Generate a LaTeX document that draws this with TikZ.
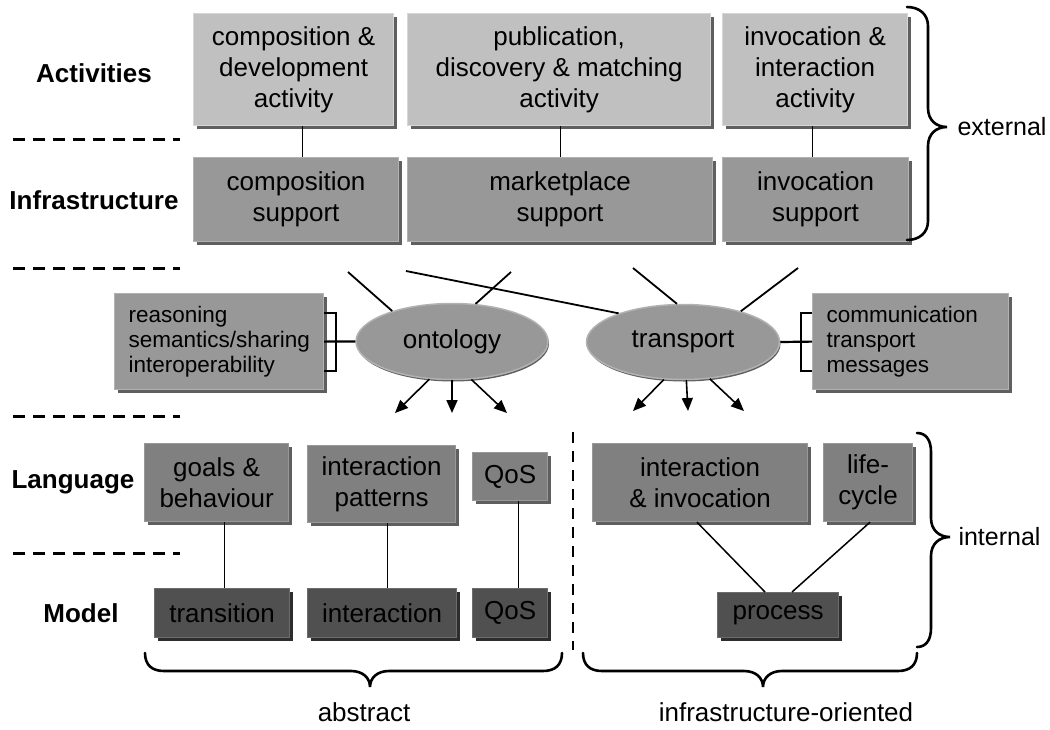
\documentclass[tikz,border=0pt]{standalone}
\usepackage{fontspec}
\setmainfont{Liberation Sans}
\usetikzlibrary{shapes.geometric,shadows,arrows.meta,calc}
\definecolor{actc}{RGB}{192,192,192}
\definecolor{actedge}{RGB}{214,214,214}
\definecolor{infc}{RGB}{152,152,152}
\definecolor{infedge}{RGB}{178,178,178}
\definecolor{langc}{RGB}{128,128,128}
\definecolor{langedge}{RGB}{152,152,152}
\definecolor{modc}{RGB}{80,80,80}
\definecolor{modedge}{RGB}{108,108,108}
\definecolor{shadc}{RGB}{95,95,95}
\definecolor{shadd}{RGB}{45,45,45}
\begin{document}
\begin{tikzpicture}[x=1pt,y=-1pt,
  box/.style={rectangle, inner sep=0pt, align=center, anchor=north west,
    font=\fontsize{26}{31}\selectfont, line width=1.2pt,
    drop shadow={shadow xshift=3pt, shadow yshift=-3pt, fill=shadc, opacity=1}},
  actbox/.style={box, fill=actc, draw=actedge},
  infbox/.style={box, fill=infc, draw=infedge},
  sidebox/.style={infbox, align=left, inner xsep=14pt, font=\fontsize{22.5}{25}\selectfont},
  langbox/.style={box, fill=langc, draw=langedge},
  modbox/.style={box, fill=modc, draw=modedge,
    drop shadow={shadow xshift=3pt, shadow yshift=-3pt, fill=shadd, opacity=1}},
  oval/.style={ellipse, inner sep=0pt, fill=infc, draw=infedge, line width=1.5pt,
    font=\fontsize{26}{31}\selectfont,
    drop shadow={shadow xshift=1pt, shadow yshift=-2pt, fill=shadc, opacity=1}},
  rowlbl/.style={font=\bfseries\fontsize{26}{31}\selectfont},
  sidelbl/.style={font=\fontsize{25}{31}\selectfont},
  botlbl/.style={font=\fontsize{26}{31}\selectfont},
  sep/.style={line width=3pt, dash pattern=on 12pt off 8pt},
  conn/.style={line width=1.5pt},
  arr/.style={line width=1.6pt, -{Triangle[length=13pt,width=11pt]}},
  brc/.style={line width=2.6pt, line cap=round},
]
\useasboundingbox (0,0) rectangle (1050,729);

% row labels
\node[rowlbl] (lact) at (94,73) {Activities};
\node[rowlbl] (linf) at (94,200) {Infrastructure};
\node[rowlbl] (llang) at (73,482) {Language};
\node[rowlbl] (lmod) at (81,613) {Model};

% dashed separators
\coordinate (s1a) at (13,139); \coordinate (s1b) at (180,139);
\coordinate (s2a) at (13,268); \coordinate (s2b) at (180,268);
\coordinate (s3a) at (13,416); \coordinate (s3b) at (180,416);
\coordinate (s4a) at (13,553); \coordinate (s4b) at (180,553);
\draw[sep] (s1a) -- (s1b);
\draw[sep] (s2a) -- (s2b);
\draw[sep] (s3a) -- (s3b);
\draw[sep] (s4a) -- (s4b);

% activities
\node[actbox, minimum width=200pt, minimum height=112pt] (a1) at (193,13) {composition \&\\development\\activity};
\node[actbox, minimum width=303pt, minimum height=112pt] (a2) at (407,13) {publication,\\discovery \& matching\\activity};
\node[actbox, minimum width=185pt, minimum height=112pt] (a3) at (722,13) {invocation \&\\interaction\\activity};

% infrastructure
\node[infbox, minimum width=205pt, minimum height=84pt] (i1) at (193,157) {composition\\support};
\node[infbox, minimum width=305pt, minimum height=84pt] (i2) at (407,157) {marketplace\\support};
\node[infbox, minimum width=186pt, minimum height=84pt] (i3) at (722,157) {invocation\\support};

\draw[conn] ([xshift=9pt]a1.south) -- ([xshift=9pt]a1.south |- i1.north);
\draw[conn] ([xshift=1.5pt]a2.south) -- ([xshift=1.5pt]a2.south |- i2.north);
\draw[conn] ([xshift=-2.5pt]a3.south) -- ([xshift=-2.5pt]a3.south |- i3.north);

% middle
\node[sidebox, text width=181pt, minimum height=96pt] (lbox) at (114,293) {reasoning\\semantics/sharing\\interoperability};
\node[sidebox, text width=168pt, minimum height=96pt] (rbox) at (812,293) {communication\\transport\\messages};
\node[oval, minimum width=192pt, minimum height=76pt] (ont) at (452,341.5) {ontology};
\node[oval, minimum width=193pt, minimum height=75pt] (tr) at (683,342) {transport};

% brackets
\draw[line width=2.2pt] ($(lbox.east)+(0,-29)$) -- ++(12,0) -- ++(0,58) -- ++(-12,0);
\draw[line width=2.2pt] (lbox.east) -- (ont.west);
\draw[line width=2.2pt] ($(rbox.west)+(0,-29)$) -- ++(-11,0) -- ++(0,58) -- ++(11,0);
\draw[line width=2.2pt] (tr.east) -- (rbox.west);

% lines to ovals
\coordinate (t1) at (348,272);
\coordinate (t2) at (511,272);
\coordinate (t3) at (406,271);
\coordinate (t4) at (633,268);
\coordinate (t5) at (798,268);
\draw[conn, line width=1.8pt] (t1) -- (ont.153);
\draw[conn, line width=1.8pt] (t2) -- (ont.58);
\draw[conn, line width=1.8pt] (t3) -- (tr.156);
\draw[conn, line width=1.8pt] (t4) -- (tr.99);
\draw[conn, line width=1.8pt] (t5) -- (tr.28);

% arrows from ovals
\coordinate (o1) at (395,413);
\coordinate (o2) at (452,413);
\coordinate (o3) at (507,413);
\coordinate (p1) at (633,411);
\coordinate (p2) at (688,411);
\coordinate (p3) at (744,411);
\draw[arr] (ont.239) -- (o1);
\draw[arr] (ont.south) -- (o2);
\draw[arr] (ont.297) -- (o3);
\draw[arr] (tr.243) -- (p1);
\draw[arr] (tr.275) -- (p2);
\draw[arr] (tr.306) -- (p3);

% language
\node[langbox, minimum width=144pt, minimum height=78pt] (l1) at (144,443) {goals \&\\behaviour};
\node[langbox, minimum width=148pt, minimum height=77pt] (l2) at (307,445) {interaction\\patterns};
\node[langbox, minimum width=75pt, minimum height=48pt] (l3) at (472,452) {QoS};
\node[langbox, minimum width=215pt, minimum height=78pt] (l4) at (592,443) {interaction\\\& invocation};
\node[langbox, minimum width=89pt, minimum height=78pt] (l5) at (823,443) {life-\\cycle};

% model
\node[modbox, minimum width=135pt, minimum height=49pt] (m1) at (154,588) {transition};
\node[modbox, minimum width=149pt, minimum height=49pt] (m2) at (307,588) {interaction};
\node[modbox, minimum width=75pt, minimum height=49pt] (m3) at (472,588) {QoS};
\node[modbox, minimum width=121pt, minimum height=45pt] (m4) at (717,592) {process};

\draw[conn] ([xshift=8pt]l1.south) -- ([xshift=8pt]l1.south |- m1.north);
\draw[conn] ([xshift=6pt]l2.south) -- ([xshift=6pt]l2.south |- m2.north);
\draw[conn] ([xshift=8.5pt]l3.south) -- ([xshift=8.5pt]l3.south |- m3.north);
\draw[conn] ($(l4.south west)+(105,0)$) -- ($(m4.north west)+(48,0)$);
\draw[conn] ($(l5.south west)+(47,0)$) -- ($(m4.north west)+(75,0)$);

% vertical dashed separator
\coordinate (v1) at (573,432);
\coordinate (v2) at (573,650);
\draw[line width=2.6pt, dash pattern=on 11pt off 8pt] (v1) -- (v2);

% braces
\draw[brc] (907,7) .. controls (919,7) and (928,14) .. (928,26) -- (928,108)
  .. controls (928,120) and (936,127) .. (947,127)
  .. controls (936,127) and (928,134) .. (928,146) -- (928,221)
  .. controls (928,233) and (919,240) .. (907,240);
\draw[brc] (917,433) .. controls (926,433) and (931,440) .. (931,452) -- (931,518)
  .. controls (931,530) and (939,537) .. (950,537)
  .. controls (939,537) and (931,544) .. (931,556) -- (931,628)
  .. controls (931,640) and (926,647) .. (917,647);
\draw[brc] (562,653) .. controls (562,665) and (555,671) .. (543,671) -- (389,671)
  .. controls (377,671) and (370,678) .. (370,687)
  .. controls (370,678) and (363,671) .. (351,671) -- (164,671)
  .. controls (152,671) and (145,665) .. (145,653);
\draw[brc] (917,653) .. controls (917,665) and (910,671) .. (898,671) -- (782,671)
  .. controls (770,671) and (763,678) .. (763,687)
  .. controls (763,678) and (756,671) .. (744,671) -- (602,671)
  .. controls (590,671) and (583,665) .. (583,653);

% side labels
\node[sidelbl, anchor=west] (ext) at (954,127) {external};
\node[sidelbl, anchor=west] (int) at (955,537) {internal};
\node[botlbl] (abs) at (364,712) {abstract};
\node[botlbl] (infor) at (786,712) {infrastructure-oriented};
\end{tikzpicture}
\end{document}
